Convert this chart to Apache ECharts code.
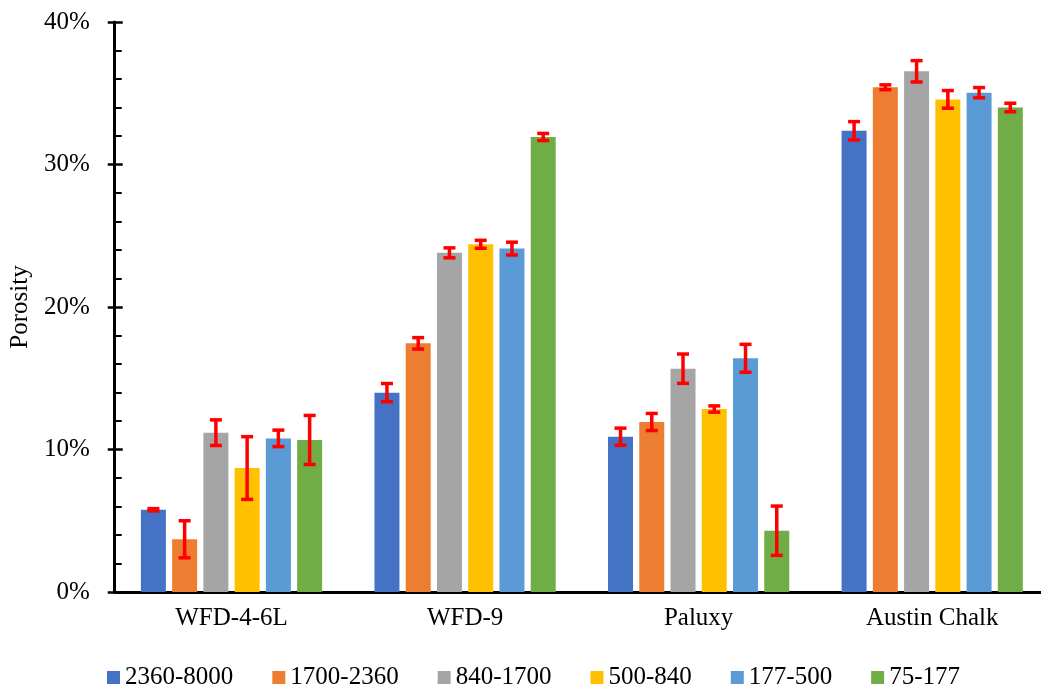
<!DOCTYPE html>
<html>
<head>
<meta charset="utf-8">
<title>Porosity by particle size</title>
<script src="https://cdn.jsdelivr.net/npm/echarts@6/dist/echarts.min.js"></script>
<style>
  html, body { margin: 0; padding: 0; background: #ffffff; overflow: hidden; }
  /* plot area runs slightly past the right edge of the window */
  #chart { width: 1052px; height: 691px; }
</style>
</head>
<body>
<div id="chart"></div>
<script>
// Samples on the category axis
const samples = ['WFD-4-6L', 'WFD-9', 'Paluxy', 'Austin Chalk'];

// Particle size classes (legend names)
const sizeClasses = ['2360-8000', '1700-2360', '840-1700', '500-840', '177-500', '75-177'];

// Mean porosity (%) per size class, one value per sample
const poro2360 = [5.77, 13.99, 10.90, 32.37];
const poro1700 = [3.70, 17.45, 11.93, 35.42];
const poro840  = [11.18, 23.80, 15.67, 36.54];
const poro500  = [8.70, 24.40, 12.84, 34.57];
const poro177  = [10.78, 24.10, 16.40, 35.04];
const poro75   = [10.67, 31.93, 4.30, 34.00];

// Error (± %) per size class, one value per sample
const err2360 = [0.08, 0.64, 0.60, 0.64];
const err1700 = [1.30, 0.40, 0.60, 0.17];
const err840  = [0.90, 0.35, 1.03, 0.75];
const err500  = [2.20, 0.28, 0.22, 0.62];
const err177  = [0.58, 0.45, 0.98, 0.36];
const err75   = [1.72, 0.25, 1.73, 0.30];

// Y axis ticks (%)
const yMin = 0, yMax = 40, yStep = 10;

const means = [poro2360, poro1700, poro840, poro500, poro177, poro75];
const errors = [err2360, err1700, err840, err500, err177, err75];
const colors = ['#4472C4', '#ED7D31', '#A5A5A5', '#FFC000', '#5B9BD5', '#70AD47'];

const FONT = 'Liberation Serif';
const BAR_W = 25;
const BAR_GAP = 0.25; // fraction of bar width
const pitch = BAR_W * (1 + BAR_GAP);

const barSeries = sizeClasses.map((name, i) => ({
  name: name,
  type: 'bar',
  data: means[i],
  barWidth: BAR_W,
  barGap: (BAR_GAP * 100) + '%',
  itemStyle: { color: colors[i] },
  z: 2
}));

// Error bars drawn on top of each bar
const errorSeries = sizeClasses.map((name, i) => ({
  type: 'custom',
  name: 'err-' + name,
  z: 5,
  data: samples.map((s, k) => [k, means[i][k], errors[i][k]]),
  encode: { x: 0, y: 1 },
  renderItem: function (params, api) {
    const cat = api.value(0);
    const m = api.value(1);
    const e = api.value(2);
    const x = api.coord([cat, 0])[0] + (i - (sizeClasses.length - 1) / 2) * pitch;
    const yHi = api.coord([cat, m + e])[1];
    const yLo = api.coord([cat, m - e])[1];
    const cap = 6;
    const st = { stroke: '#FF0000', lineWidth: 3.5, lineCap: 'butt' };
    return {
      type: 'group',
      children: [
        { type: 'line', shape: { x1: x, y1: yHi, x2: x, y2: yLo }, style: st },
        { type: 'line', shape: { x1: x - cap, y1: yHi, x2: x + cap, y2: yHi }, style: st },
        { type: 'line', shape: { x1: x - cap, y1: yLo, x2: x + cap, y2: yLo }, style: st }
      ]
    };
  }
}));

const chart = echarts.init(document.getElementById('chart'), null, { renderer: 'canvas' });

chart.setOption({
  animation: false,
  backgroundColor: '#ffffff',
  textStyle: { fontFamily: FONT },
  grid: { left: 114, top: 22, bottom: 99, right: 3, containLabel: false },
  legend: {
    data: sizeClasses,
    left: 102,
    top: 660,
    icon: 'rect',
    itemWidth: 13,
    itemHeight: 13,
    itemGap: 39,
    textStyle: { fontFamily: FONT, fontSize: 25, color: '#000000' }
  },
  xAxis: {
    type: 'category',
    data: samples,
    axisLine: { lineStyle: { color: '#000000', width: 3 } },
    axisTick: { show: false },
    axisLabel: { fontFamily: FONT, fontSize: 25, color: '#000000', margin: 14 }
  },
  yAxis: [
    {
      type: 'value',
      position: 'left',
      min: yMin,
      max: yMax,
      interval: yStep,
      name: 'Porosity',
      nameLocation: 'middle',
      nameRotate: 90,
      nameGap: 78,
      nameTextStyle: { fontFamily: FONT, fontSize: 25, color: '#000000' },
      axisLine: { show: true, lineStyle: { color: '#000000', width: 3 } },
      axisTick: { show: true, inside: true, length: 8, lineStyle: { color: '#000000', width: 2.5 } },
      minorTick: { show: true, splitNumber: 5, length: 7, lineStyle: { color: '#000000', width: 2 } },
      splitLine: { show: false },
      axisLabel: { fontFamily: FONT, fontSize: 25, color: '#000000', margin: 25, formatter: '{value}%' }
    },
    {
      type: 'value',
      position: 'left',
      min: yMin,
      max: yMax,
      interval: yStep,
      axisLine: { show: false },
      axisTick: { show: true, inside: false, length: 7, lineStyle: { color: '#000000', width: 2.5 } },
      splitLine: { show: false },
      axisLabel: { show: false }
    }
  ],
  series: barSeries.concat(errorSeries)
});
</script>
</body>
</html>
